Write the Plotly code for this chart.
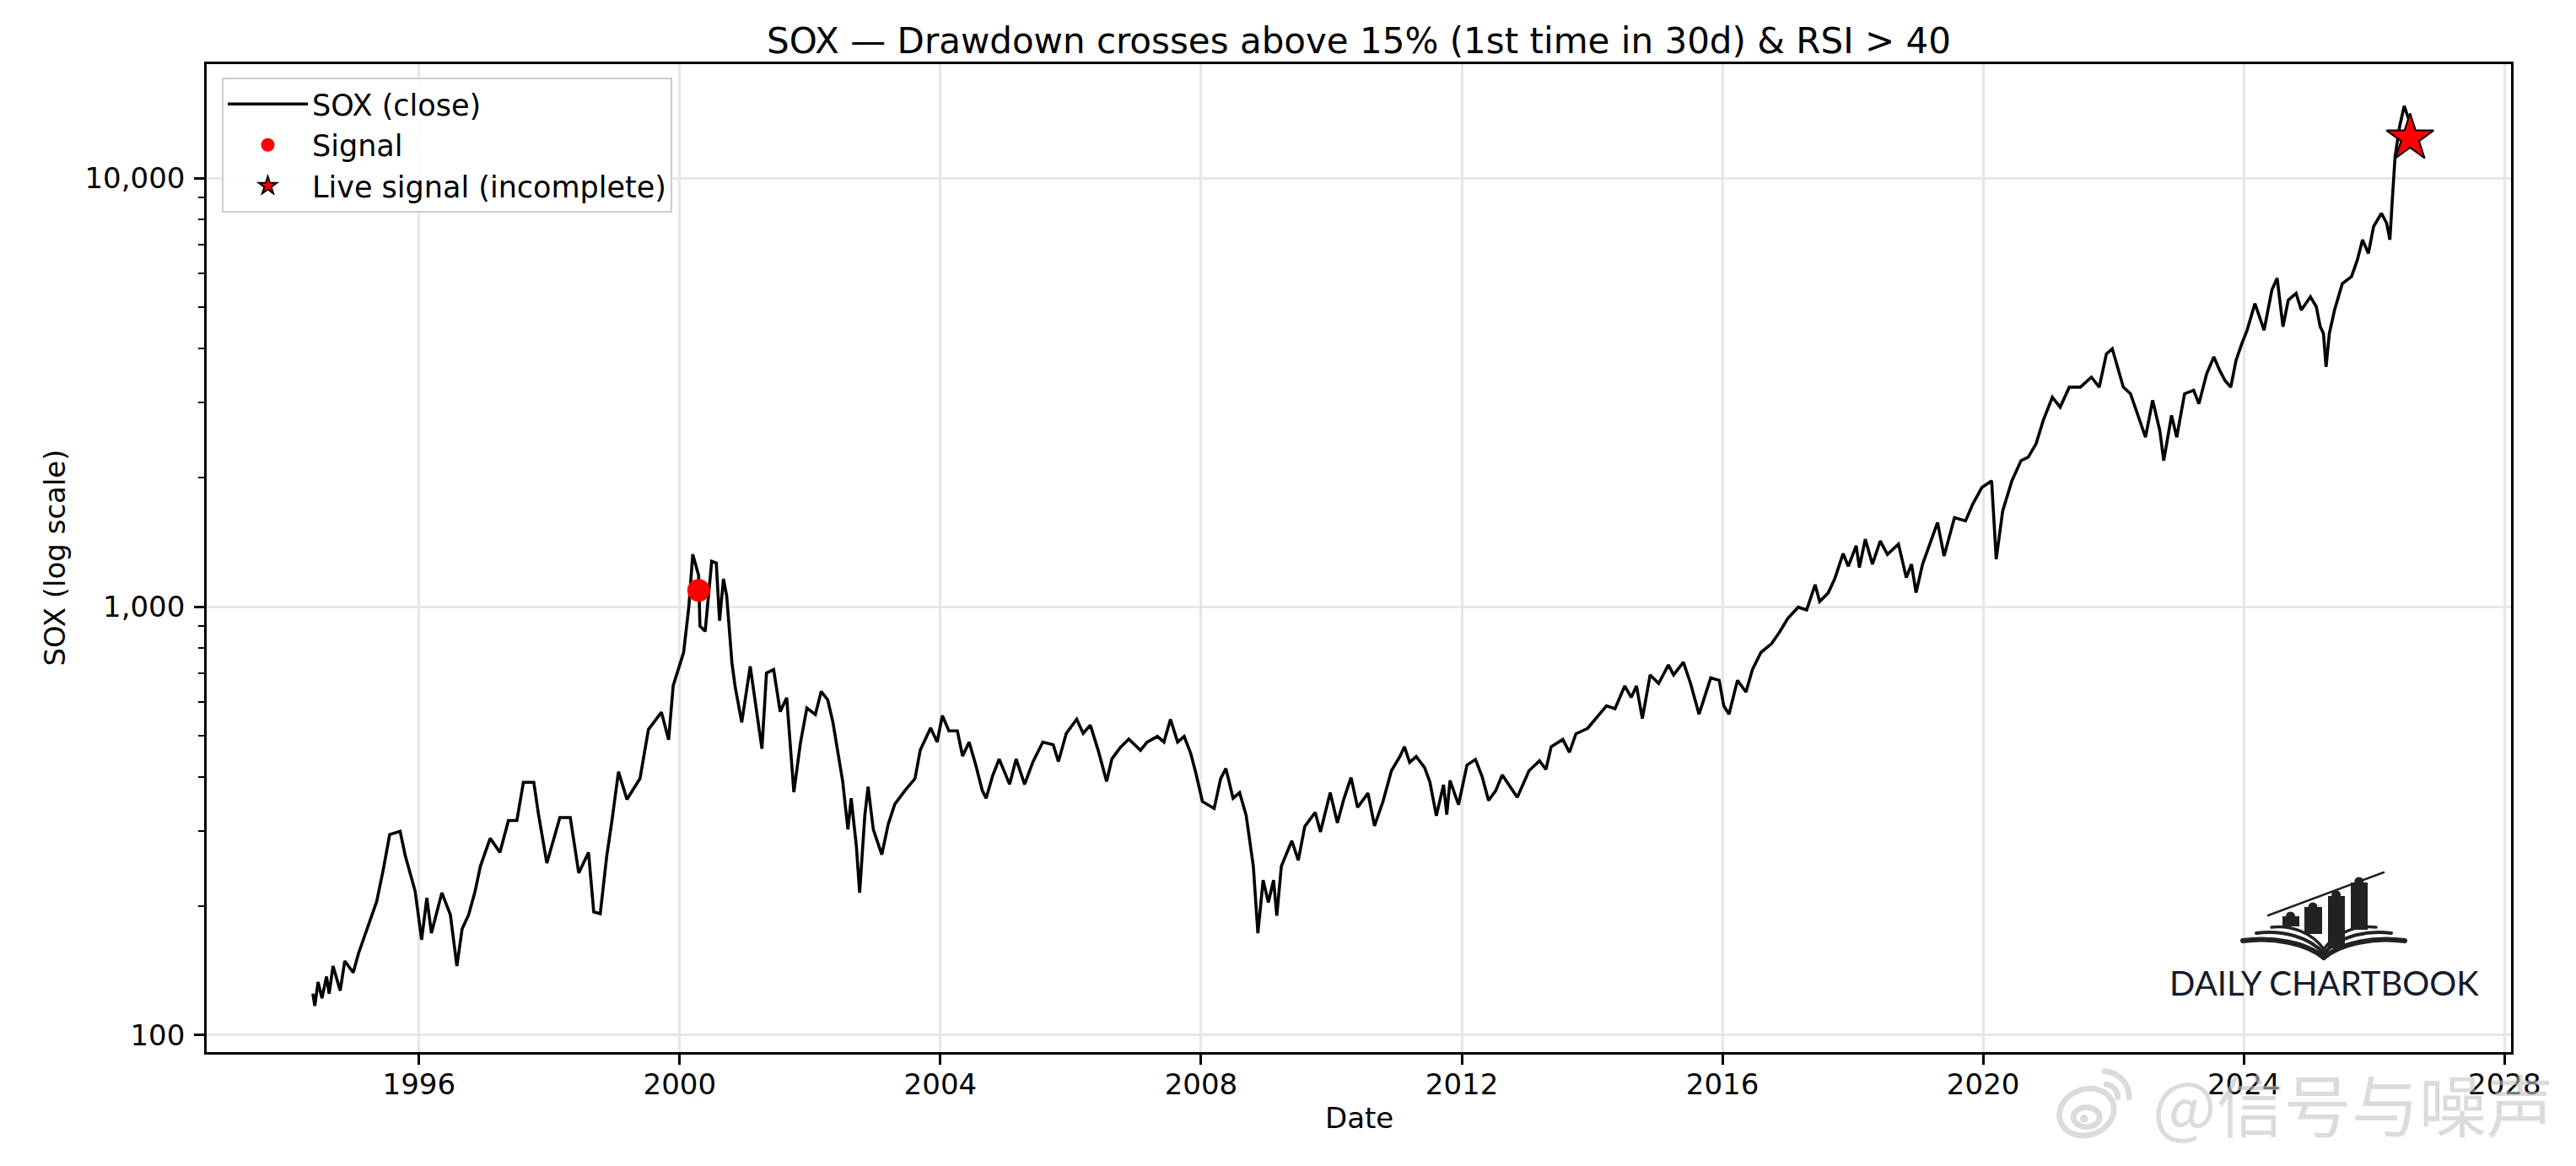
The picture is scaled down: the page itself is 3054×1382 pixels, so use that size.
import base64
import pandas as pd
import plotly.graph_objects as go

# ---------------- data ----------------
years = [
    1994.37, 1994.40, 1994.45, 1994.51, 1994.58, 1994.62, 1994.68, 1994.79, 1994.86, 1994.99,
    1995.07, 1995.22, 1995.35, 1995.45, 1995.55, 1995.71, 1995.79, 1995.94, 1996.04, 1996.12,
    1996.19, 1996.35, 1996.48, 1996.58, 1996.66, 1996.76, 1996.86, 1996.94, 1997.09, 1997.24,
    1997.37, 1997.50, 1997.60, 1997.76, 1997.83, 1997.96, 1998.16, 1998.32, 1998.45, 1998.60,
    1998.68, 1998.78, 1998.88, 1998.96, 1999.06, 1999.19, 1999.39, 1999.52, 1999.72, 1999.83,
    1999.90, 2000.06, 2000.14, 2000.20, 2000.29, 2000.31, 2000.39, 2000.49, 2000.56, 2000.61,
    2000.67, 2000.72, 2000.80, 2000.85, 2000.95, 2001.08, 2001.16, 2001.26, 2001.33, 2001.44,
    2001.54, 2001.64, 2001.75, 2001.85, 2001.95, 2002.08, 2002.17, 2002.27, 2002.35, 2002.43,
    2002.50, 2002.58, 2002.63, 2002.71, 2002.76, 2002.84, 2002.89, 2002.97, 2003.10, 2003.20,
    2003.30, 2003.46, 2003.61, 2003.69, 2003.85, 2003.95, 2004.03, 2004.13, 2004.26, 2004.34,
    2004.44, 2004.54, 2004.64, 2004.70, 2004.80, 2004.90, 2005.06, 2005.16, 2005.29, 2005.42,
    2005.57, 2005.73, 2005.81, 2005.93, 2006.09, 2006.19, 2006.30, 2006.42, 2006.55, 2006.63,
    2006.76, 2006.89, 2007.07, 2007.17, 2007.33, 2007.43, 2007.53, 2007.64, 2007.74, 2007.84,
    2007.92, 2008.02, 2008.20, 2008.30, 2008.38, 2008.49, 2008.59, 2008.69, 2008.80, 2008.87,
    2008.95, 2009.03, 2009.11, 2009.16, 2009.23, 2009.39, 2009.49, 2009.59, 2009.75, 2009.83,
    2009.98, 2010.09, 2010.19, 2010.30, 2010.40, 2010.56, 2010.66, 2010.79, 2010.92, 2011.05,
    2011.12, 2011.20, 2011.30, 2011.43, 2011.51, 2011.61, 2011.72, 2011.77, 2011.82, 2011.95,
    2012.08, 2012.21, 2012.31, 2012.41, 2012.52, 2012.62, 2012.75, 2012.85, 2013.03, 2013.19,
    2013.29, 2013.37, 2013.55, 2013.65, 2013.75, 2013.93, 2014.11, 2014.22, 2014.35, 2014.50,
    2014.60, 2014.68, 2014.77, 2014.89, 2015.02, 2015.17, 2015.25, 2015.40, 2015.51, 2015.64,
    2015.71, 2015.82, 2015.95, 2016.02, 2016.10, 2016.23, 2016.36, 2016.46, 2016.59, 2016.75,
    2016.87, 2017.00, 2017.16, 2017.29, 2017.42, 2017.49, 2017.62, 2017.72, 2017.85, 2017.93,
    2018.05, 2018.10, 2018.19, 2018.30, 2018.42, 2018.53, 2018.70, 2018.82, 2018.90, 2018.97,
    2019.07, 2019.16, 2019.30, 2019.40, 2019.56, 2019.73, 2019.84, 2019.98, 2020.13, 2020.20,
    2020.30, 2020.44, 2020.58, 2020.69, 2020.81, 2020.92, 2021.06, 2021.18, 2021.32, 2021.49,
    2021.66, 2021.78, 2021.89, 2021.98, 2022.06, 2022.15, 2022.26, 2022.37, 2022.49, 2022.60,
    2022.71, 2022.77, 2022.89, 2022.97, 2023.09, 2023.23, 2023.31, 2023.43, 2023.54, 2023.63,
    2023.71, 2023.80, 2023.88, 2023.97, 2024.05, 2024.17, 2024.22, 2024.31, 2024.43, 2024.51,
    2024.60, 2024.68, 2024.80, 2024.88, 2025.02, 2025.11, 2025.17, 2025.22, 2025.26, 2025.31,
    2025.39, 2025.51, 2025.65, 2025.74, 2025.82, 2025.91, 2025.99, 2026.11, 2026.19, 2026.24,
    2026.28, 2026.32, 2026.39, 2026.46, 2026.53, 2026.55,
]
sox_close = [
    125, 117, 133, 122, 137, 125, 145, 127, 149, 140,
    155, 180, 205, 243, 294, 299, 262, 217, 167, 209,
    173, 215, 191, 145, 177, 191, 217, 248, 288, 267,
    317, 317, 389, 389, 329, 252, 322, 322, 239, 267,
    194, 192, 262, 317, 412, 355, 397, 517, 567, 489,
    654, 782, 1000, 1325, 1183, 901, 876, 1276, 1264, 927,
    1161, 1058, 739, 649, 537, 726, 601, 466, 700, 713,
    569, 613, 369, 480, 580, 560, 634, 606, 537, 448,
    391, 302, 357, 276, 215, 326, 380, 302, 264, 311,
    346, 373, 397, 462, 521, 483, 557, 513, 513, 448,
    483, 428, 373, 357, 403, 441, 385, 441, 385, 435,
    483, 476, 435, 506, 546, 506, 529, 462, 391, 441,
    469, 491, 462, 483, 498, 483, 546, 483, 498, 455,
    409, 351, 338, 397, 419, 357, 368, 326, 248, 173,
    230, 204, 230, 190, 248, 284, 256, 307, 331, 298,
    368, 313, 356, 399, 340, 367, 308, 351, 414, 447,
    471, 433, 447, 421, 390, 325, 384, 327, 393, 345,
    427, 440, 402, 353, 372, 405, 378, 359, 414, 437,
    417, 471, 490, 457, 505, 520, 561, 587, 578, 653,
    614, 653, 548, 693, 662, 731, 693, 742, 662, 561,
    605, 682, 673, 587, 561, 673, 632, 714, 782, 819,
    870, 938, 997, 982, 1125, 1028, 1076, 1160, 1330, 1242,
    1387, 1234, 1437, 1256, 1423, 1324, 1399, 1169, 1256, 1078,
    1256, 1374, 1572, 1312, 1614, 1585, 1734, 1897, 1966, 1291,
    1674, 1966, 2191, 2232, 2398, 2718, 3080, 2922, 3252, 3252,
    3432, 3252, 3890, 3998, 3625, 3252, 3139, 2819, 2485, 3031,
    2576, 2191, 2794, 2485, 3139, 3199, 2974, 3499, 3828, 3556,
    3371, 3252, 3756, 4111, 4418, 5098, 4827, 4418, 5486, 5838,
    4500, 5189, 5383, 4920, 5284, 5012, 4500, 4338, 3625, 4338,
    4920, 5675, 5888, 6442, 7179, 6671, 7709, 8279, 7850, 7179,
    9059, 11240, 13220, 14730, 13710, 12400,
]
signal_years = [2000.29]
signal_values = [1091]
live_years = [2026.55]
live_values = [12400]

x_range_years = [1992.74, 2028.10]
y_tickvals = [100, 1000, 10000]
y_ticktext = ["100", "1,000", "10,000"]
y_minor_vals = [200, 300, 400, 500, 600, 700, 800, 900,
                2000, 3000, 4000, 5000, 6000, 7000, 8000, 9000]


def to_date(y):
    yr = int(y)
    start = pd.Timestamp(year=yr, month=1, day=1)
    end = pd.Timestamp(year=yr + 1, month=1, day=1)
    return start + (end - start) * (y - yr)


dates = [to_date(y) for y in years]
sig_dates = [to_date(y) for y in signal_years]
live_dates = [to_date(y) for y in live_years]
x_range = [to_date(y) for y in x_range_years]

FONT = "DejaVu Sans"
W, H = 3054, 1382
L, R, T, B = 245, 77, 76, 135
PW, PH = W - L - R, H - T - B


def px(xp):
    return (xp - L) / PW


def py(yp):
    return (H - B - yp) / PH


fig = go.Figure()
fig.add_trace(go.Scatter(
    x=dates, y=sox_close, mode="lines", name="SOX (close)",
    line=dict(color="black", width=3.6),
))
fig.add_trace(go.Scatter(
    x=sig_dates, y=signal_values, mode="markers", name="Signal",
    marker=dict(color="#ff0000", size=27, line=dict(width=0)),
))
fig.add_trace(go.Scatter(
    x=live_dates, y=live_values, mode="markers", name="Live signal (incomplete)",
    marker=dict(color="#ff0000", size=42, symbol="star",
                line=dict(color="black", width=2)),
))

axis_common = dict(
    showline=True, linecolor="black", linewidth=2.6, mirror=True,
    ticks="outside", ticklen=12, tickwidth=2.6, tickcolor="black",
    tickfont=dict(family=FONT, size=34, color="black"),
    showgrid=True, gridcolor="#e6e6e6", gridwidth=2.5, zeroline=False,
)

fig.update_xaxes(
    type="date", range=x_range, tick0="1996-01-01", dtick="M48",
    tickformat="%Y", ticklabelstandoff=-6, **axis_common,
)
fig.update_yaxes(
    type="log", range=[1.9605, 4.266], tickmode="array",
    tickvals=y_tickvals, ticktext=y_ticktext, ticklabelstandoff=4,
    minor=dict(tickmode="array", tickvals=y_minor_vals, ticks="outside",
               ticklen=7, tickwidth=2, tickcolor="black", showgrid=False),
    **axis_common,
)

# logo icon (drawn as inline SVG)
svg = """<svg xmlns='http://www.w3.org/2000/svg' width='205' height='110' viewBox='0 0 205 110'>
<g fill='none' stroke='#222' stroke-linecap='round'>
<path d='M4 85 C40 80 80 88 100 105' stroke-width='6'/>
<path d='M20 76 C50 72 82 80 100 100' stroke-width='4'/>
<path d='M38 69 C60 66 86 75 100 95' stroke-width='3.5'/>
<path d='M196 85 C160 80 120 88 100 105' stroke-width='6'/>
<path d='M180 76 C150 72 118 80 100 100' stroke-width='4'/>
<path d='M162 69 C140 66 114 75 100 95' stroke-width='3.5'/>
<path d='M34 55 L171 4' stroke-width='2.5'/>
</g>
<g fill='#222'>
<rect x='51' y='56' width='20' height='12'/>
<rect x='77' y='45' width='21' height='32'/>
<rect x='105' y='32' width='20' height='62'/>
<rect x='132' y='16' width='20' height='56'/>
<circle cx='60.5' cy='56' r='5.5'/>
<circle cx='87' cy='45' r='5.5'/>
<circle cx='114.6' cy='30.7' r='5.5'/>
<circle cx='141.8' cy='15' r='5.5'/>
</g></svg>"""
svg_uri = "data:image/svg+xml;base64," + base64.b64encode(svg.encode()).decode()

# watermark eye icon (light gray)
wb = """<svg xmlns='http://www.w3.org/2000/svg' width='100' height='100' viewBox='0 0 100 100'>
<g fill='none' stroke='#cfcfcf' stroke-width='7' stroke-linecap='round' opacity='0.75'>
<ellipse cx='40' cy='62' rx='34' ry='28' transform='rotate(-20 40 62)'/>
<ellipse cx='40' cy='68' rx='16' ry='12'/>
<path d='M62 12 A32 32 0 0 1 92 44'/>
<path d='M64 28 A16 16 0 0 1 78 44'/>
</g><circle cx='37' cy='70' r='5' fill='#cfcfcf' opacity='0.75'/></svg>"""
wb_uri = "data:image/svg+xml;base64," + base64.b64encode(wb.encode()).decode()

fig.add_layout_image(dict(
    source=svg_uri, xref="paper", yref="paper",
    x=px(2655), y=py(1030), sizex=205 / PW, sizey=110 / PH,
    xanchor="left", yanchor="top", sizing="stretch", layer="above",
))
fig.add_layout_image(dict(
    source=wb_uri, xref="paper", yref="paper",
    x=px(2435), y=py(1258), sizex=97 / PW, sizey=97 / PH,
    xanchor="left", yanchor="top", sizing="stretch", layer="above",
))

annotations = [
    dict(text="Date", x=0.5, y=py(1325), xref="paper", yref="paper",
         showarrow=False, font=dict(family=FONT, size=34, color="black"),
         xanchor="center", yanchor="middle"),
    dict(text="SOX (log scale)", x=px(64), y=0.5, xref="paper", yref="paper",
         showarrow=False, textangle=-90, font=dict(family=FONT, size=34, color="black"),
         xanchor="center", yanchor="middle"),
    dict(text="DAILY CHARTBOOK", x=px(2755), y=py(1165), xref="paper", yref="paper",
         showarrow=False, font=dict(family="Lato", size=40, color="#151b2b"),
         xanchor="center", yanchor="middle"),
    dict(text="@信号与噪声", x=px(2790), y=py(1306), xref="paper", yref="paper",
         showarrow=False, font=dict(family="Noto Sans CJK SC", size=80,
                                    color="rgba(195,195,195,0.6)"),
         xanchor="center", yanchor="middle"),
]

fig.update_layout(
    width=W, height=H,
    margin=dict(l=L, r=R, t=T, b=B),
    paper_bgcolor="white", plot_bgcolor="white",
    title=dict(text="SOX — Drawdown crosses above 15% (1st time in 30d) & RSI > 40",
               x=0.5, xref="paper", xanchor="center",
               y=1 - 48 / H, yref="container", yanchor="middle",
               font=dict(family=FONT, size=42, color="black")),
    legend=dict(x=px(263), y=py(92), xanchor="left", yanchor="top",
                font=dict(family=FONT, size=35, color="black"),
                bgcolor="rgba(255,255,255,0.85)", bordercolor="#cccccc",
                borderwidth=2, itemwidth=95),
    annotations=annotations,
    showlegend=True,
)

fig.write_html("out.html")
